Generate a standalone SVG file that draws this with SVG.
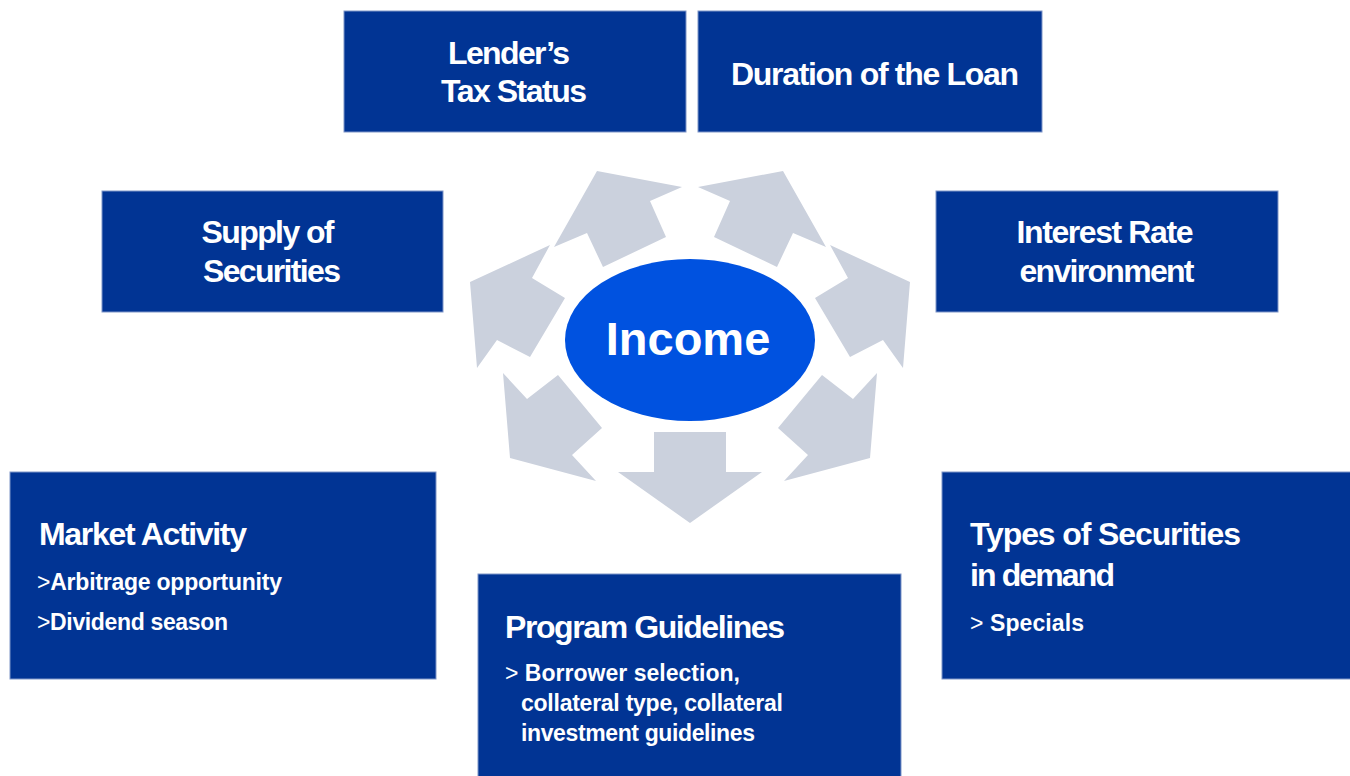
<svg xmlns="http://www.w3.org/2000/svg" width="1350" height="776" viewBox="0 0 1350 776">
<style>
.box{fill:#013494;stroke:#7f95c8;stroke-width:1}
.t{font-family:"Liberation Sans",Arial,sans-serif;font-weight:700;fill:#ffffff;font-size:32px}
.c{text-anchor:middle}
.b{font-size:23px}
.g{font-weight:400}
.arr{fill:#cbd1dd}
</style>
<rect width="1350" height="776" fill="#ffffff"/>
<g id="connectors">
<polygon class="arr" points="597,171 682,187 650,201 666,237 603,267 587,233 554,247"/>
<polygon class="arr" points="783,171 826,247 793,233 777,267 714,237 730,201 698,187"/>
<polygon class="arr" points="550,245 470,282 477,368 497,340 530,357 565,298 532,278"/>
<polygon class="arr" points="830,245 910,282 903,368 883,340 850,357 815,298 848,278"/>
<polygon class="arr" points="503,373 527,399 558,375 602,428 572,455 596,481 510,458"/>
<polygon class="arr" points="877,373 853,399 822,375 778,428 808,455 784,481 870,458"/>
<polygon class="arr" points="654,432 726,432 726,472 762,472 690,523 618,472 654,472"/>
</g>
<g id="income">
<ellipse cx="690" cy="340" rx="125" ry="81" fill="#0052e0"/>
<text class="t c" x="688" y="355" style="font-size:47px">Income</text>
</g>
<g id="lender">
<rect class="box" x="344" y="11" width="342" height="121"/>
<text class="t c" x="509" y="64" textLength="122">Lender’s</text>
<text class="t c" x="514" y="102" textLength="146">Tax Status</text>
</g>
<g id="duration">
<rect class="box" x="698" y="11" width="344" height="121"/>
<text class="t c" x="875" y="85" textLength="288">Duration of the Loan</text>
</g>
<g id="supply">
<rect class="box" x="102" y="191" width="341" height="121"/>
<text class="t c" x="268" y="243" textLength="133">Supply of</text>
<text class="t c" x="272" y="282" textLength="138">Securities</text>
</g>
<g id="interest">
<rect class="box" x="936" y="191" width="342" height="121"/>
<text class="t c" x="1105" y="243" textLength="177">Interest Rate</text>
<text class="t c" x="1107" y="282" textLength="175">environment</text>
</g>
<g id="market">
<rect class="box" x="10" y="472" width="426" height="207"/>
<text class="t" x="39" y="545" textLength="208">Market Activity</text>
<text class="t b" x="37" y="590" textLength="245"><tspan class="g">&gt;</tspan>Arbitrage opportunity</text>
<text class="t b" x="37" y="630" textLength="191"><tspan class="g">&gt;</tspan>Dividend season</text>
</g>
<g id="program">
<rect class="box" x="478" y="574" width="423" height="205"/>
<text class="t" x="505" y="638" textLength="280">Program Guidelines</text>
<text class="t b" x="505" y="681" textLength="235"><tspan class="g">&gt;</tspan>  Borrower selection,</text>
<text class="t b" x="521" y="711" textLength="262">collateral type, collateral</text>
<text class="t b" x="521" y="741" textLength="234">investment guidelines</text>
</g>
<g id="types">
<rect class="box" x="942" y="472" width="410" height="207"/>
<text class="t" x="970" y="545" textLength="271">Types of Securities</text>
<text class="t" x="970" y="586" textLength="145">in demand</text>
<text class="t b" x="970" y="631" textLength="114"><tspan class="g">&gt;</tspan>  Specials</text>
</g>
</svg>
